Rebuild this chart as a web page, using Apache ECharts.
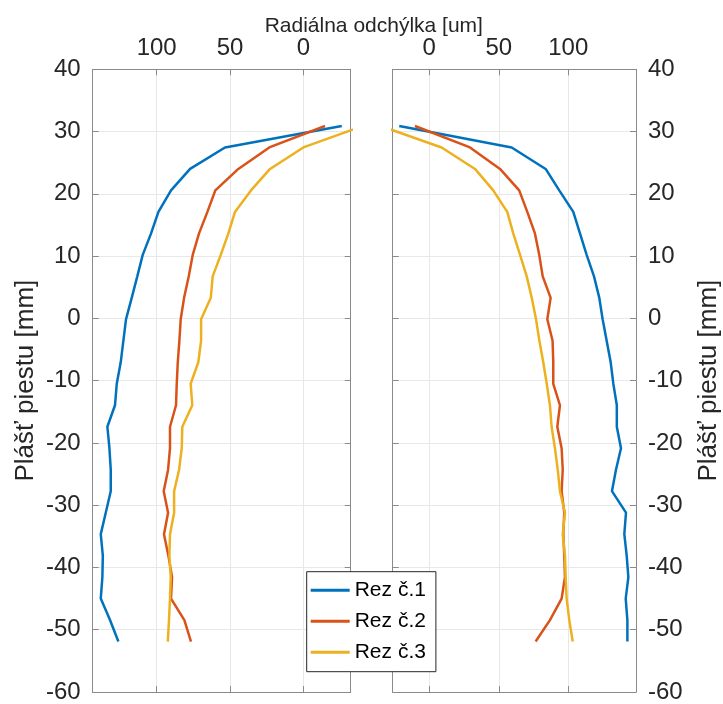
<!DOCTYPE html>
<html>
<head>
<meta charset="utf-8">
<script src="https://cdn.jsdelivr.net/npm/echarts@6/dist/echarts.min.js"></script>
<style>
  html, body { margin: 0; padding: 0; background: #fff; }
  #chart { width: 723px; height: 704px; }
</style>
</head>
<body>
<div id="chart"></div>
<script>
// Positions along the piston skirt [mm]
const positions = [30.9, 27.45, 24.0, 20.55, 17.1, 13.65, 10.2, 6.75, 3.3, -0.15, -3.6, -7.05,
  -10.5, -13.95, -17.4, -20.85, -24.3, -27.75, -31.2, -34.65, -38.1, -41.55, -45.0, -48.45, -51.9];

// Radial deviation [um], left side of the profile
const leftRez1 = [-26.2, 53.4, 77.2, 90.2, 98.8, 103.8, 109.5, 113.2, 117.0, 120.9, 122.7, 124.5,
  127.2, 128.4, 133.6, 132.2, 131.3, 131.3, 134.7, 138.1, 136.7, 137.0, 138.1, 131.8, 126.1];
const leftRez2 = [-14.8, 23.2, 44.3, 60.0, 65.4, 71.1, 75.4, 78.1, 81.3, 83.6, 84.5, 85.6,
  86.3, 86.8, 90.9, 90.9, 92.2, 95.2, 92.2, 95.0, 92.0, 89.5, 90.2, 81.1, 76.6];
const leftRez3 = [-40.5, 0.0, 22.7, 35.7, 46.6, 51.1, 56.3, 61.8, 63.1, 69.7, 69.7, 71.6,
  76.8, 75.7, 82.5, 82.9, 84.7, 88.1, 88.1, 90.9, 91.3, 90.4, 90.9, 91.6, 92.4];

// Radial deviation [um], right side of the profile
const rightRez1 = [-21.6, 59.3, 83.7, 93.5, 103.6, 108.4, 113.2, 118.5, 122.3, 124.7, 127.6, 130.5,
  132.4, 134.9, 134.9, 137.9, 134.3, 131.4, 141.5, 140.3, 142.0, 143.2, 141.3, 142.5, 142.5];
const rightRez2 = [-10.3, 29.3, 50.9, 64.7, 70.5, 76.0, 79.1, 81.6, 87.3, 84.9, 88.7, 89.2,
  89.2, 94.0, 92.1, 95.2, 96.0, 95.2, 97.1, 96.4, 97.1, 97.6, 95.2, 86.8, 76.5];
const rightRez3 = [-35.0, 8.9, 32.9, 46.0, 56.1, 60.4, 65.3, 70.1, 73.7, 76.8, 79.2, 82.0,
  84.5, 86.8, 88.0, 90.4, 92.4, 94.0, 97.6, 96.0, 97.6, 98.1, 98.8, 100.7, 103.2];

const seriesNames = ['Rez č.1', 'Rez č.2', 'Rez č.3'];
const seriesColors = ['#0072BD', '#D95319', '#EDB120'];
const xTickValues = [0, 50, 100];

const axisColor = '#8a8a8a';
const textColor = '#262626';
const gridLineColor = '#e8e8e8';
const fontFamily = '"Liberation Sans", Arial, Helvetica, sans-serif';

function pairs(values) {
  return values.map((v, i) => [v, positions[i]]);
}

function xAxisDef(gridIndex, position, inverse, min, max, withLabels) {
  return {
    type: 'value', gridIndex, position, inverse, min, max,
    axisLine: { show: true, onZero: false, lineStyle: { color: axisColor, width: 1 } },
    axisTick: { show: true, inside: true, length: 6, customValues: xTickValues,
      lineStyle: { color: axisColor, width: 1 } },
    axisLabel: { show: withLabels, customValues: xTickValues, margin: 9,
      fontSize: 24, color: textColor, fontFamily },
    splitLine: { show: withLabels, lineStyle: { color: gridLineColor, width: 1 } }
  };
}

function yAxisDef(gridIndex, position, withLabels, withSplit) {
  const ax = {
    type: 'value', gridIndex, position, min: -60, max: 40, interval: 10,
    axisLine: { show: true, onZero: false, lineStyle: { color: axisColor, width: 1 } },
    axisTick: { show: true, inside: true, length: 6, lineStyle: { color: axisColor, width: 1 } },
    axisLabel: { show: withLabels, margin: 12, fontSize: 24, color: textColor, fontFamily },
    splitLine: { show: withSplit, lineStyle: { color: gridLineColor, width: 1 } }
  };
  if (withLabels) {
    ax.name = 'Plášť piestu [mm]';
    ax.nameLocation = 'middle';
    ax.nameRotate = 90;
    ax.nameGap = position === 'left' ? 54 : 60;
    ax.nameTextStyle = { fontSize: 26, color: textColor, fontFamily };
  }
  return ax;
}

function lineSeries(name, color, values, xi, yi) {
  return {
    type: 'line', name, xAxisIndex: xi, yAxisIndex: yi,
    data: pairs(values), symbol: 'none', clip: true,
    lineStyle: { color, width: 2.5 }, itemStyle: { color },
    animation: false
  };
}

const chart = echarts.init(document.getElementById('chart'), null, { renderer: 'canvas' });

chart.setOption({
  backgroundColor: '#ffffff',
  animation: false,
  textStyle: { fontFamily },
  title: {
    text: 'Radiálna odchýlka [um]',
    left: 368.8, top: 11, textAlign: 'center',
    textStyle: { fontSize: 21, fontWeight: 'normal', color: textColor, fontFamily }
  },
  grid: [
    { left: 92.7, top: 69.3, width: 258, height: 624.2 },
    { left: 392.7, top: 69.3, width: 243.3, height: 624.2 }
  ],
  xAxis: [
    xAxisDef(0, 'top', true, -32.3, 143.6, true),
    xAxisDef(0, 'bottom', true, -32.3, 143.6, false),
    xAxisDef(1, 'top', false, -26.3, 148.7, true),
    xAxisDef(1, 'bottom', false, -26.3, 148.7, false)
  ],
  yAxis: [
    yAxisDef(0, 'left', true, true),
    yAxisDef(0, 'right', false, false),
    yAxisDef(1, 'right', true, true),
    yAxisDef(1, 'left', false, false)
  ],
  legend: {
    orient: 'vertical',
    left: 306.7, top: 571.7,
    padding: [8, 10, 9, 4],
    itemGap: 10,
    icon: 'rect',
    itemWidth: 39, itemHeight: 3,
    backgroundColor: '#ffffff',
    borderColor: '#262626', borderWidth: 1,
    textStyle: { fontSize: 21, color: '#000000', fontFamily },
    data: seriesNames.map((name, i) => ({ name, itemStyle: { color: seriesColors[i] } })),
    z: 10
  },
  series: [
    lineSeries(seriesNames[0], seriesColors[0], leftRez1, 0, 0),
    lineSeries(seriesNames[1], seriesColors[1], leftRez2, 0, 0),
    lineSeries(seriesNames[2], seriesColors[2], leftRez3, 0, 0),
    lineSeries(seriesNames[0], seriesColors[0], rightRez1, 2, 2),
    lineSeries(seriesNames[1], seriesColors[1], rightRez2, 2, 2),
    lineSeries(seriesNames[2], seriesColors[2], rightRez3, 2, 2)
  ]
});
</script>
</body>
</html>
